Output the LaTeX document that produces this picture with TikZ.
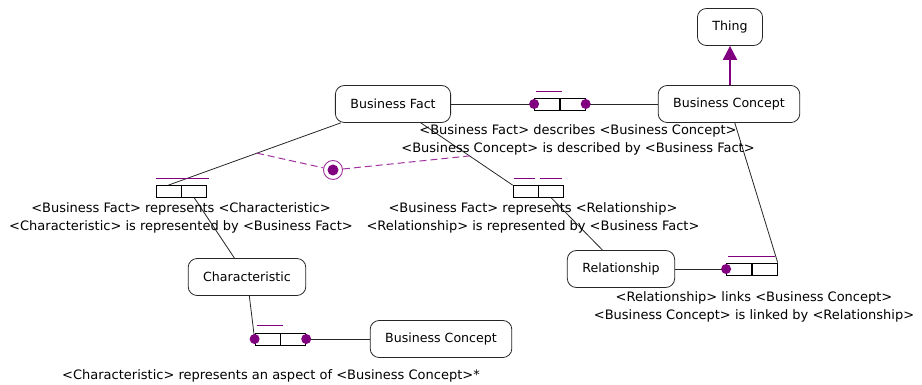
\documentclass[tikz,border=0pt]{standalone}
\usepackage{fontspec}
\setmainfont{DejaVu Sans}
\usepackage{tikz}
\usetikzlibrary{positioning,arrows.meta,calc}
\definecolor{vio}{RGB}{128,0,128}
\definecolor{lvio}{RGB}{160,50,160}

\begin{document}
\begin{tikzpicture}[x=1pt, y=-1pt,
  ent/.style={draw=black!85, line width=0.8pt, rounded corners=9pt, minimum height=37pt,
              inner xsep=15pt, font=\fontsize{12.6}{14}\selectfont, fill=white},
  role/.style={draw, line width=0.8pt, minimum width=25pt, minimum height=12pt, inner sep=0pt},
  dot/.style={circle, fill=vio, inner sep=0pt, minimum size=10pt},
  uc/.style={draw=vio, line width=1pt},
  rd/.style={font=\fontsize{13}{17.5}\selectfont, align=center, inner sep=0pt},
  ln/.style={draw=black!85, line width=0.8pt}]
\useasboundingbox (0,0) rectangle (922,385);
% object types
\node[ent] (thing) at (730,27)  {Thing};
\node[ent] (bc)    at (729,104) {Business Concept};
\node[ent] (bf)    at (393,104) {Business Fact};
\node[ent] (ch)    at (247,277) {Characteristic};
\node[ent] (rel)   at (621,269) {Relationship};
\node[ent] (bc2)   at (441,339) {Business Concept};
% fact types (two roles each)
\node[role] (d1)  at (547,104) {};
\node[role, anchor=west] (d2) at (d1.east) {};
\node[role] (rc1) at (168.5,191.5) {};
\node[role, anchor=west] (rc2) at (rc1.east) {};
\node[role] (rr1) at (525.5,191.5) {};
\node[role, anchor=west] (rr2) at (rr1.east) {};
\node[role] (l1)  at (739,269) {};
\node[role, anchor=west] (l2) at (l1.east) {};
\node[role] (a1)  at (267.5,339) {};
\node[role, anchor=west] (a2) at (a1.east) {};
% role connectors
\draw[ln] (bf) -- (d1.west);
\draw[ln] (d2.east) -- (bc);
\draw[ln] (bf) -- (rc1.north);
\draw[ln] (rc2.south) -- (ch);
\draw[ln] (bf) -- (rr1.north west);
\draw[ln] (rr2.south) -- (rel);
\draw[ln] (rel) -- (l1.west);
\draw[ln] (bc) -- (l2.north east);
\draw[ln] (ch) -- (a1.west);
\draw[ln] (a2.east) -- (bc2);
% mandatory dots
\foreach \p in {d1.west, d2.east, l1.west, a1.west, a2.east}
  \node[dot] at (\p) {};
% uniqueness
\draw[uc] ([xshift=2pt,yshift=6.5pt]d1.north west) -- ([xshift=2pt,yshift=6.5pt]d1.north east);
\draw[uc] ([yshift=7pt]rc1.north west) -- ([xshift=2pt,yshift=7pt]rc2.north east);
\draw[uc] ([xshift=1pt,yshift=7pt]rr1.north west) -- ([xshift=-3pt,yshift=7pt]rr1.north east);
\draw[uc] ([xshift=2pt,yshift=7pt]rr2.north west) -- ([xshift=-2pt,yshift=7pt]rr2.north east);
\draw[uc] ([xshift=2pt,yshift=6.5pt]l1.north west) -- ([xshift=-3pt,yshift=6.5pt]l2.north east);
\draw[uc] ([xshift=2pt,yshift=7.5pt]a1.north west) -- ([xshift=3pt,yshift=7.5pt]a1.north east);
% equality constraint
\coordinate (jl) at ($(bf)!0.606!(rc1.north)$);
\coordinate (jr) at ($(bf)!0.64!(rr1.north west)$);
\node[circle, draw=lvio, fill=white, line width=0.9pt, minimum size=19pt, inner sep=0pt] (eq) at (333,170) {};
\draw[lvio, line width=1pt, dash pattern=on 7pt off 4pt] (jl) -- (eq) -- (jr);
\node[circle, fill=vio, minimum size=11pt, inner sep=0pt] (eqc) at (eq) {};
% subtype
\draw[vio, line width=2pt, -{Triangle[length=14pt,width=14pt]}] (bc.north -| thing) -- (thing);
% readings
\node[rd] (rdesc) at (578,140) {<Business Fact> describes <Business Concept>\\<Business Concept> is described by <Business Fact>};
\node[rd] (rchar) at (181,218) {<Business Fact> represents <Characteristic>\\<Characteristic> is represented by <Business Fact>};
\node[rd] (rrel)  at (533,218) {<Business Fact> represents <Relationship>\\<Relationship> is represented by <Business Fact>};
\node[rd] (rlink) at (754,307) {<Relationship> links <Business Concept>\\<Business Concept> is linked by <Relationship>};
\node[rd] (rasp)  at (271,376) {<Characteristic> represents an aspect of <Business Concept>*};
\end{tikzpicture}
\end{document}
